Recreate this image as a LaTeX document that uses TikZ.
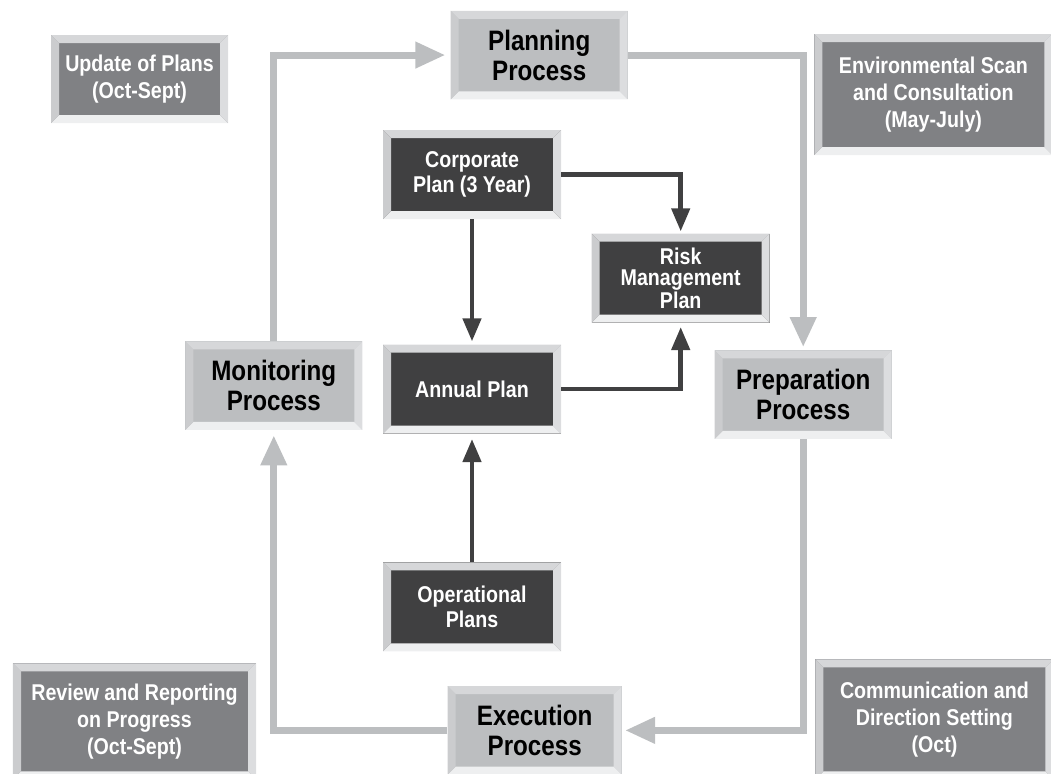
\documentclass[tikz,border=0pt]{standalone}
\usepackage{fontspec}
\setmainfont{Liberation Sans}[FakeStretch=0.86]
\usepackage{tikz}
\usetikzlibrary{positioning}
\usetikzlibrary{arrows.meta}
\definecolor{plandark}{HTML}{404041}
\definecolor{notegray}{HTML}{808184}
\definecolor{procgray}{HTML}{BCBEC0}
\definecolor{bevtop}{HTML}{D6D7D9}
\definecolor{bevleft}{HTML}{CBCCCE}
\definecolor{bevright}{HTML}{DCDDDF}
\definecolor{bevbottom}{HTML}{EEEFF0}
\newcommand{\bevw}{0.16cm}
\tikzstyle{bevel}=[path picture={
  \path (path picture bounding box.north west) coordinate (bnw)
        (path picture bounding box.north east) coordinate (bne)
        (path picture bounding box.south west) coordinate (bsw)
        (path picture bounding box.south east) coordinate (bse);
  \fill[bevtop] (bnw) -- (bne) -- ([shift={(-\bevw,-\bevw)}]bne) -- ([shift={(\bevw,-\bevw)}]bnw) -- cycle;
  \fill[bevbottom] (bsw) -- (bse) -- ([shift={(-\bevw,\bevw)}]bse) -- ([shift={(\bevw,\bevw)}]bsw) -- cycle;
  \fill[bevleft] (bnw) -- (bsw) -- ([shift={(\bevw,\bevw)}]bsw) -- ([shift={(\bevw,-\bevw)}]bnw) -- cycle;
  \fill[bevright] (bne) -- (bse) -- ([shift={(-\bevw,\bevw)}]bse) -- ([shift={(-\bevw,-\bevw)}]bne) -- cycle;
}]
\tikzstyle{plan box}=[bevel,fill=plandark,text=white,inner sep=0pt,align=center,
  minimum width=3.56cm,minimum height=1.78cm,font=\bfseries\fontsize{13}{14.5}\selectfont]
\tikzstyle{process box}=[bevel,fill=procgray,text=black,inner sep=0pt,align=center,
  minimum width=3.54cm,minimum height=1.77cm,font=\bfseries\fontsize{16}{17}\selectfont]
\tikzstyle{note box}=[bevel,fill=notegray,text=white,inner sep=0pt,align=center,
  font=\bfseries\fontsize{13}{15.4}\selectfont]
\tikzstyle{cycle edge}=[line width=0.14cm,draw=procgray,-{Triangle[length=0.6cm,width=0.5cm]}]
\tikzstyle{plan edge}=[line width=0.09cm,draw=plandark,-{Triangle[length=0.46cm,width=0.36cm]}]
\newcommand{\planbox}[3][]{
  \node [#1] (#2) {#3}
}

\begin{document}
\begin{tikzpicture}
  \useasboundingbox (0,0) rectangle (21.02,-15.46);
        \planbox[plan box,at={(9.44,-3.49)}]{corp}{Corporate\\Plan (3 Year)};
        \planbox[plan box,below=2.5cm of corp]{annual}{Annual Plan};
        \planbox[plan box,below=2.56cm of annual]{oper}{Operational\\Plans};
        \planbox[plan box,below right=0.28cm and 0.6cm of corp,font=\bfseries\fontsize{13}{12}\selectfont]{risk}{Risk\\Management\\Plan};
    \planbox[process box,above right=0.6cm and -2.22cm of corp]{planning}{Planning\\Process};
    \planbox[process box,left=0.4cm of annual,yshift=0.07cm]{monitor}{Monitoring\\Process};
    \planbox[process box,right=3.06cm of annual,yshift=-0.11cm]{prep}{Preparation\\Process};
    \planbox[process box,below right=0.68cm and -2.28cm of oper,minimum width=3.48cm]{exec}{Execution\\Process};
  \planbox[note box,left=4.44cm of planning,yshift=-0.48cm,minimum width=3.54cm,minimum height=1.76cm]{update}{Update of Plans\\(Oct-Sept)};
  \planbox[note box,right=3.72cm of planning,yshift=-0.79cm,minimum width=4.76cm,minimum height=2.42cm]{envscan}{Environmental Scan\\and Consultation\\(May-July)};
  \planbox[note box,left=3.82cm of exec,yshift=0.18cm,minimum width=4.86cm,minimum height=2.32cm]{review}{Review and Reporting\\on Progress\\(Oct-Sept)};
  \planbox[note box,right=3.86cm of exec,yshift=0.22cm,minimum width=4.76cm,minimum height=2.4cm]{comm}{Communication and\\Direction Setting\\(Oct)};

      \draw[cycle edge,shorten >=0.1cm] (monitor.north) |- (planning.west);
      \draw[cycle edge,shorten >=0.06cm] (planning.east) -| (prep.north);
      \draw[cycle edge,shorten >=0.06cm] (prep.south) |- (exec.east);
      \draw[cycle edge,shorten >=0.1cm] (exec.west) -| (monitor.south);
      \draw[plan edge,shorten >=0.04cm] (corp.east) -| (risk.north);
      \draw[plan edge,shorten >=0.06cm] (corp.south) -- (annual.north);
      \draw[plan edge,shorten >=0.08cm] (annual.east) -| (risk.south);
      \draw[plan edge,shorten >=0.1cm] (oper.north) -- (annual.south);
\end{tikzpicture}
\end{document}
